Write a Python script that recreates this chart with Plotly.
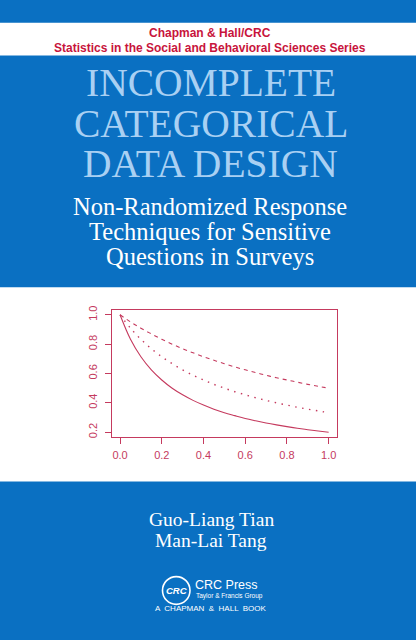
import plotly.graph_objects as go

# curve values
xVals = [0.0, 0.05, 0.1, 0.15, 0.2, 0.25, 0.3, 0.35, 0.4, 0.45, 0.5,
         0.55, 0.6, 0.65, 0.7, 0.75, 0.8, 0.85, 0.9, 0.95, 1.0]
solidVals = [1.0, 0.833, 0.714, 0.625, 0.556, 0.5, 0.455, 0.417, 0.385, 0.357, 0.333,
             0.313, 0.294, 0.278, 0.263, 0.25, 0.238, 0.227, 0.217, 0.208, 0.2]
dottedVals = [1.0, 0.909, 0.833, 0.769, 0.714, 0.667, 0.625, 0.588, 0.556, 0.526, 0.5,
              0.476, 0.455, 0.435, 0.417, 0.4, 0.385, 0.37, 0.357, 0.345, 0.333]
dashedVals = [1.0, 0.952, 0.909, 0.87, 0.833, 0.8, 0.769, 0.741, 0.714, 0.69, 0.667,
              0.645, 0.625, 0.606, 0.588, 0.571, 0.556, 0.541, 0.526, 0.513, 0.5]

xTicks = [0.0, 0.2, 0.4, 0.6, 0.8, 1.0]
xTickText = ['0.0', '0.2', '0.4', '0.6', '0.8', '1.0']
yTicks = [0.2, 0.4, 0.6, 0.8, 1.0]
yTickText = ['0.2', '0.4', '0.6', '0.8', '1.0']

seriesLine = 'Chapman & Hall/CRC'
seriesName = 'Statistics in the Social and Behavioral Sciences Series'
titleLines = ['INCOMPLETE', 'CATEGORICAL', 'DATA DESIGN']
subtitleLines = ['Non-Randomized Response', 'Techniques for Sensitive', 'Questions in Surveys']
authors = ['Guo-Liang Tian', 'Man-Lai Tang']

W, H = 416, 640
BLUE = '#0A70C2'
CRIMSON = '#C53A5E'
RED = '#C8143C'
LIGHTBLUE = '#A9D0F3'
SANS = 'Liberation Sans, Arial, sans-serif'
SERIF = 'Liberation Serif, Times New Roman, serif'


def px(x):
    return x / W


def py(y):
    return 1 - y / H


fig = go.Figure()

# (values, dash pattern, width) - R style lty 1, 3, 2
lineStyles = [
    (solidVals, 'solid', 1.1),
    (dottedVals, '1.5px,5.5px', 1.4),
    (dashedVals, '4px,4px', 1.1),
]
for vals, dash, lw in lineStyles:
    fig.add_trace(go.Scatter(
        x=xVals, y=vals, mode='lines',
        line=dict(color=CRIMSON, width=lw, dash=dash, shape='spline'),
        showlegend=False, hoverinfo='skip'
    ))

axisStyle = dict(
    showline=True, mirror=True, linecolor=CRIMSON, linewidth=1,
    ticks='outside', ticklen=6, tickcolor=CRIMSON, tickwidth=1,
    showgrid=False, zeroline=False,
    tickfont=dict(family=SANS, size=11, color=CRIMSON),
)

# white bands and the CRC circle
shapes = [
    dict(type='rect', xref='paper', yref='paper', x0=0, x1=1,
         y0=py(51), y1=py(18), fillcolor='white', line=dict(width=0), layer='below'),
    dict(type='rect', xref='paper', yref='paper', x0=0, x1=1,
         y0=py(481), y1=py(285), fillcolor='white', line=dict(width=0), layer='below'),
    dict(type='circle', xref='paper', yref='paper', x0=px(162.5), x1=px(190),
         y0=py(605), y1=py(577), line=dict(color='white', width=1.6)),
]

annotations = []


def addText(text, x, y, family, size, color, **kw):
    annotations.append(dict(
        text=text, x=px(x), y=py(y), xref='paper', yref='paper',
        xanchor=kw.pop('xanchor', 'center'), yanchor='middle', showarrow=False,
        font=dict(family=family, size=size, color=color), **kw))


addText('<b>' + seriesLine + '</b>', 210, 28, SANS, 12, RED)
addText('<b>' + seriesName + '</b>', 210, 43.5, SANS, 12, RED)

for i, line in enumerate(titleLines):
    addText(line, 210.5, 79 + i * 41, SERIF, 39.5, LIGHTBLUE)

for i, line in enumerate(subtitleLines):
    addText(line, 210, 203 + i * 25.5, SERIF, 24.5, 'white')

for i, line in enumerate(authors):
    addText(line, 211, 519 + i * 22, SERIF, 19.5, 'white')

addText('<b><i>CRC</i></b>', 176.5, 591, SANS, 9.5, 'white')
addText('CRC Press', 193, 585, SANS, 12.5, 'white', xanchor='left')
addText('Taylor &amp; Francis Group', 194, 597, SANS, 6.5, 'white', xanchor='left')
addText('A  CHAPMAN  &amp;  HALL  BOOK', 210.5, 609.5, SANS, 8, 'white')

fig.update_layout(
    width=W, height=H,
    margin=dict(l=0, r=0, t=0, b=0),
    paper_bgcolor=BLUE,
    plot_bgcolor='white',
    xaxis=dict(domain=[px(111.7), px(337)], range=[-0.04, 1.04],
               tickvals=xTicks, ticktext=xTickText, ticklabelstandoff=2, **axisStyle),
    yaxis=dict(domain=[py(436), py(308)], range=[0.168, 1.032],
               tickvals=yTicks, ticktext=yTickText, tickangle=-90,
               ticklabelstandoff=3, **axisStyle),
    shapes=shapes,
    annotations=annotations,
)

# drop the default page margin so the cover sits at the window's corner
fig.write_html('out.html', config={'displayModeBar': False},
               post_script="document.body.style.margin='0';")
